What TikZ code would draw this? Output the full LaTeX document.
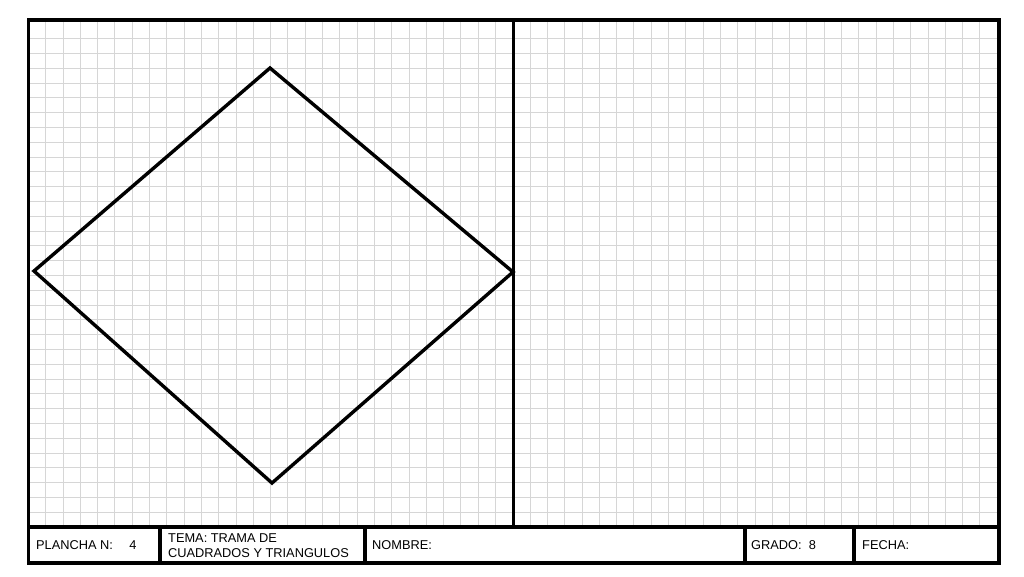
\documentclass[tikz,border=0pt]{standalone}
\usepackage{fontspec}
\setmainfont{Liberation Sans}
\begin{document}
\begin{tikzpicture}[x=1pt,y=-1pt,
    gridline/.style={draw=black!16,line width=1pt},
    frameline/.style={line width=3.6pt},
    celltext/.style={anchor=west,align=left,inner sep=0pt,font=\fontsize{12.8}{15}\selectfont}]
    \useasboundingbox (0,0) rectangle (1024,576);
    % grid
    \foreach \i in {1,...,55}
        \draw[gridline] ({28.4+17.3*\i},20) -- ({28.4+17.3*\i},527);
    \foreach \j in {1,...,33}
        \draw[gridline] (28.4,{527-14.8*\j}) -- (999,{527-14.8*\j});
    % frame and title block
    \draw[frameline] (28.4,20) rectangle (999,563);
    \draw[frameline] (28.4,527) -- (999,527);
    \draw[frameline] (513.5,20) -- (513.5,527);
    \foreach \x in {160,365,745,854}
        \draw[frameline] (\x,527) -- (\x,563);
    % square on its point
    \coordinate (top) at (270,68);
    \coordinate (right) at (513,272);
    \coordinate (bottom) at (272,483);
    \coordinate (left) at (34,271);
    \draw[line width=3.4pt] (top) -- (right) -- (bottom) -- (left) -- cycle;
    % title block texts
    \node[celltext] (plancha) at (36,545.5) {PLANCHA N:\quad\ 4};
    \node[celltext] (tema) at (168,545.5) {TEMA: TRAMA DE\\CUADRADOS Y TRIANGULOS};
    \node[celltext] (nombre) at (372,545.5) {NOMBRE:};
    \node[celltext] (grado) at (751,545.5) {GRADO:\ \ 8};
    \node[celltext] (fecha) at (862,545.5) {FECHA:};
\end{tikzpicture}
\end{document}
